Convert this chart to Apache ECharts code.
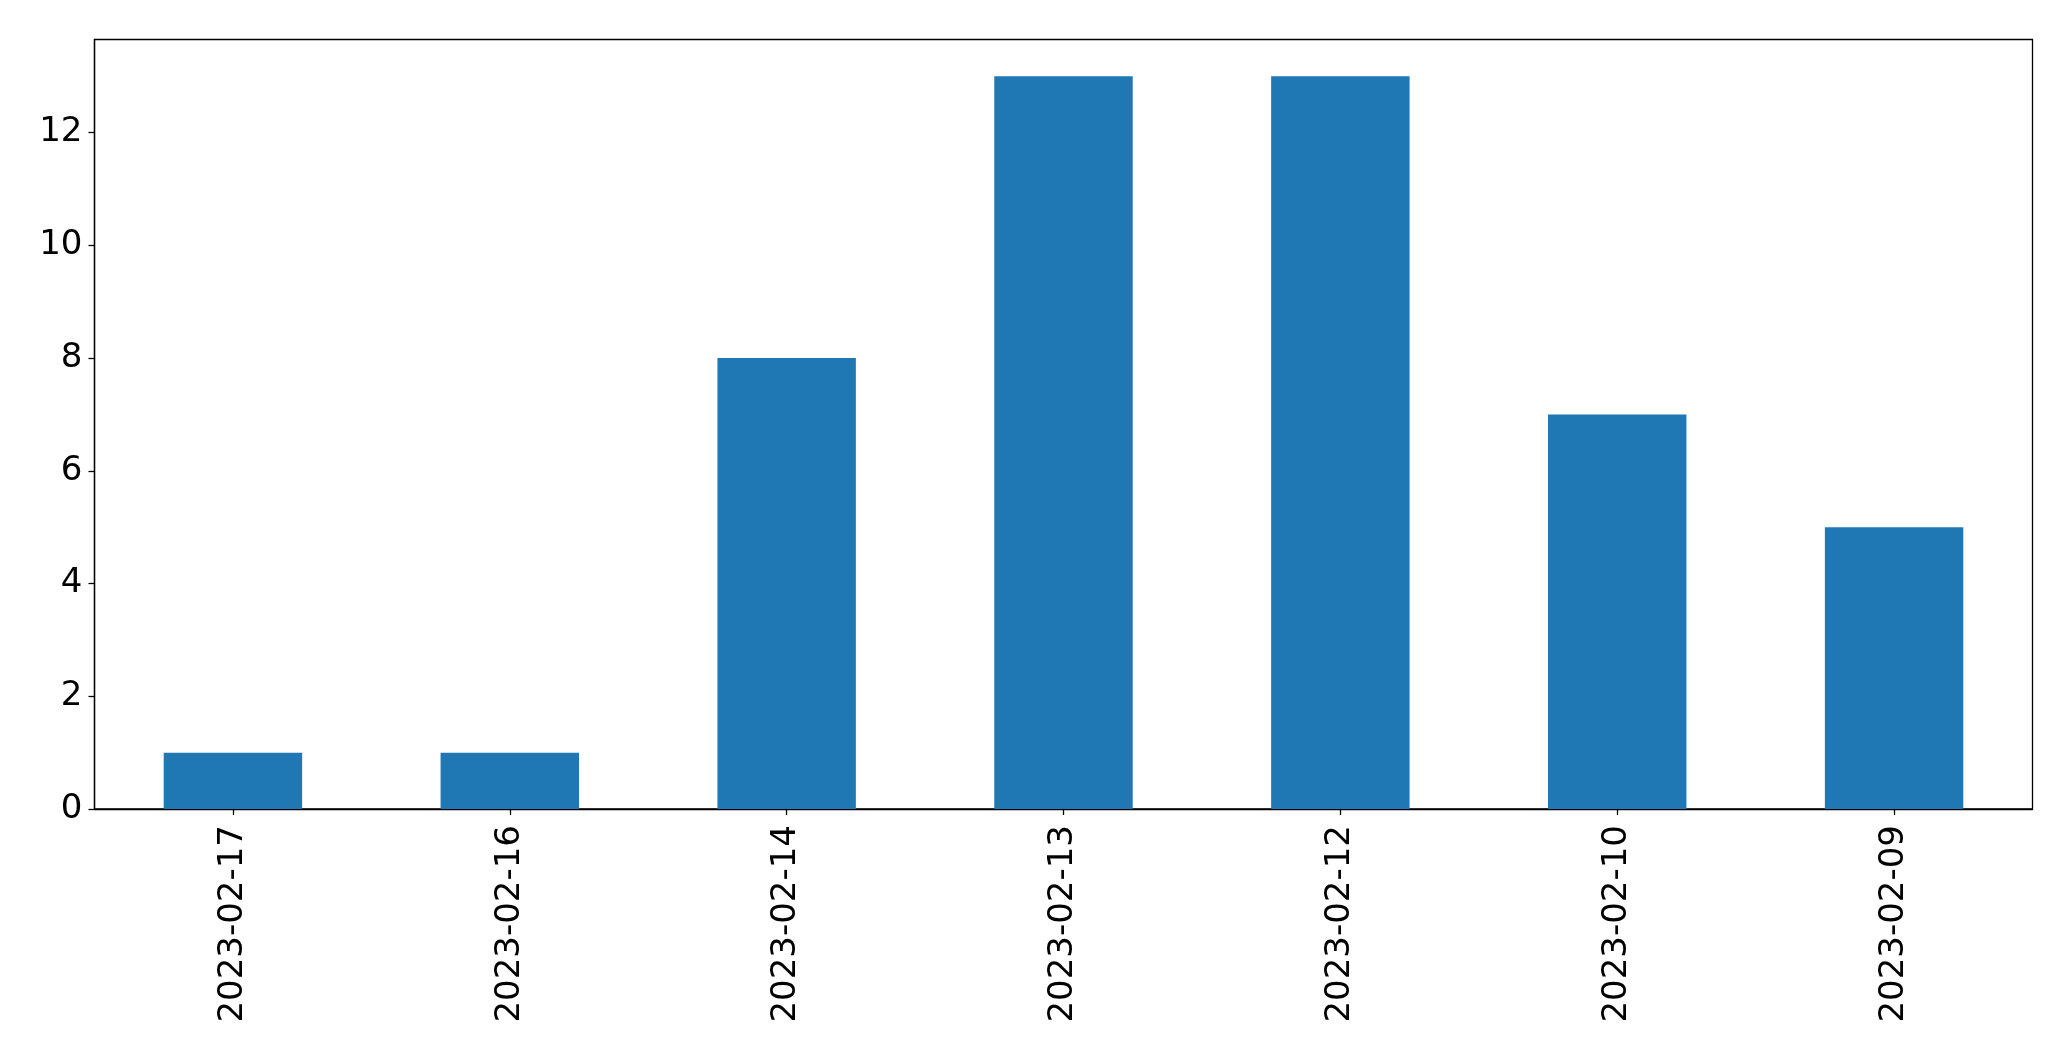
<!DOCTYPE html>
<html>
<head>
<meta charset="utf-8">
<script src="https://cdn.jsdelivr.net/npm/echarts@6/dist/echarts.min.js"></script>
<style>
html,body{margin:0;padding:0;background:#fff;}
#chart{width:2071px;height:1061px;}
</style>
</head>
<body>
<div id="chart"></div>
<script>
const categories = ['2023-02-17','2023-02-16','2023-02-14','2023-02-13','2023-02-12','2023-02-10','2023-02-09'];
const values = [1, 1, 8, 13, 13, 7, 5];
const yTicks = [0, 2, 4, 6, 8, 10, 12];

const chart = echarts.init(document.getElementById('chart'), null, {renderer: 'canvas'});
const font = 'DejaVu Sans';
chart.setOption({
  animation: false,
  backgroundColor: '#fff',
  grid: {
    left: 94.5, right: 38.5, top: 39.5, bottom: 252,
    show: true, borderColor: '#000', borderWidth: 1.3, backgroundColor: 'transparent'
  },
  xAxis: {
    type: 'category',
    data: categories,
    boundaryGap: true,
    axisLine: {show: true, lineStyle: {color: '#000', width: 1.3}},
    axisTick: {show: true, alignWithLabel: true, length: 6, lineStyle: {color: '#000', width: 1.3}},
    axisLabel: {rotate: 90, margin: 16, color: '#000', fontSize: 34, fontFamily: font},
    splitLine: {show: false}
  },
  yAxis: {
    type: 'value',
    min: 0, max: 13.65, interval: 2,
    axisLine: {show: true, lineStyle: {color: '#000', width: 1.3}},
    axisTick: {show: true, length: 6, customValues: yTicks, lineStyle: {color: '#000', width: 1.3}},
    axisLabel: {margin: 12, color: '#000', fontSize: 34, fontFamily: font, customValues: yTicks},
    splitLine: {show: false}
  },
  series: [{
    type: 'bar',
    data: values,
    barWidth: '50%',
    itemStyle: {color: '#1f77b4'}
  }]
});
</script>
</body>
</html>
